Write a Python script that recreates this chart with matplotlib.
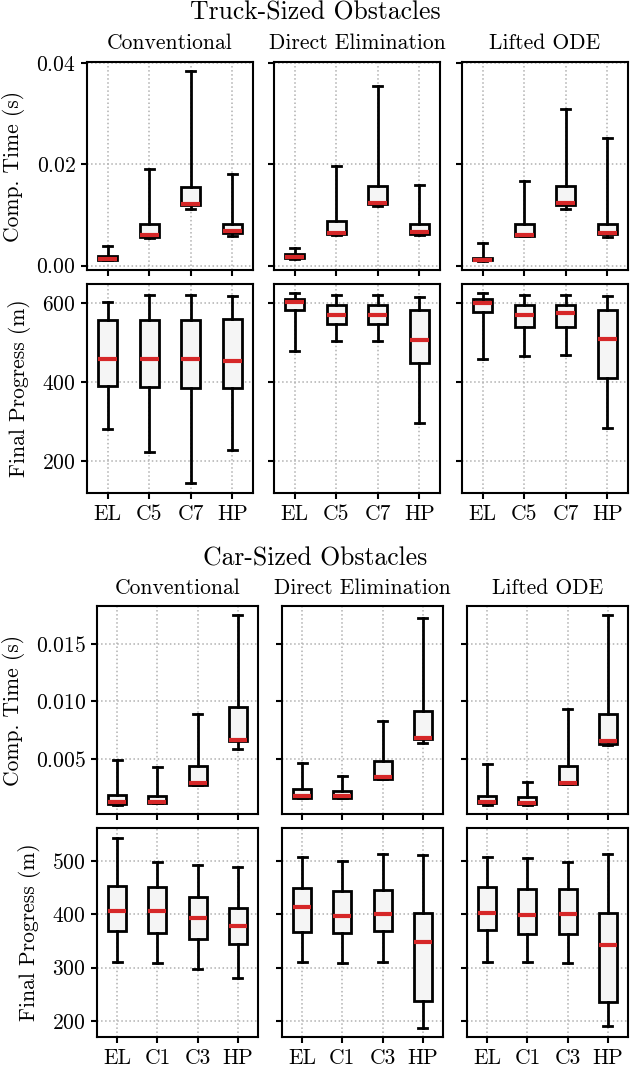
import matplotlib
matplotlib.use("Agg")
import matplotlib.pyplot as plt

plt.rcParams["font.family"] = "serif"
plt.rcParams["font.serif"] = ["cmr10"]
plt.rcParams["mathtext.fontset"] = "cm"
plt.rcParams["axes.formatter.use_mathtext"] = True
plt.rcParams["font.size"] = 15.5
plt.rcParams["axes.linewidth"] = 1.5

methods = ["Conventional", "Direct Elimination", "Lifted ODE"]
truck_labels = ["EL", "C5", "C7", "HP"]
car_labels = ["EL", "C1", "C3", "HP"]

# each entry: [whislo, q1, med, q3, whishi]
truck_time_conv = [[0.0011, 0.0012, 0.0013, 0.0018, 0.0039],
                   [0.0054, 0.0057, 0.0061, 0.0083, 0.0191],
                   [0.0111, 0.0119, 0.0122, 0.0155, 0.0383],
                   [0.0059, 0.0064, 0.0068, 0.0082, 0.0180]]
truck_time_de = [[0.0014, 0.0015, 0.0017, 0.0022, 0.0034],
                 [0.0060, 0.0063, 0.0065, 0.0088, 0.0196],
                 [0.0118, 0.0121, 0.0124, 0.0158, 0.0354],
                 [0.0061, 0.0063, 0.0066, 0.0083, 0.0160]]
truck_time_lode = [[0.0010, 0.0011, 0.0012, 0.0016, 0.0045],
                   [0.0058, 0.0059, 0.0061, 0.0083, 0.0166],
                   [0.0111, 0.0119, 0.0123, 0.0157, 0.0308],
                   [0.0056, 0.0062, 0.0065, 0.0082, 0.0252]]

truck_prog_conv = [[282, 390, 457, 558, 602],
                   [222, 387, 457, 557, 619],
                   [143, 386, 457, 557, 619],
                   [228, 384, 453, 559, 617]]
truck_prog_de = [[478, 581, 603, 609, 624],
                 [505, 548, 570, 596, 619],
                 [505, 548, 570, 596, 619],
                 [295, 448, 506, 582, 615]]
truck_prog_lode = [[459, 576, 601, 609, 624],
                   [465, 539, 569, 596, 619],
                   [469, 539, 574, 596, 619],
                   [284, 411, 510, 582, 617]]

car_time_conv = [[0.0010, 0.00105, 0.00125, 0.00183, 0.00486],
                 [0.0011, 0.00111, 0.0012, 0.00171, 0.00425],
                 [0.0027, 0.00272, 0.0029, 0.00434, 0.00892],
                 [0.0058, 0.00653, 0.0066, 0.00947, 0.01745]]
car_time_de = [[0.0016, 0.00157, 0.0017, 0.00232, 0.00463],
               [0.00155, 0.00157, 0.00174, 0.00215, 0.00344],
               [0.0032, 0.00321, 0.0034, 0.00477, 0.00826],
               [0.00633, 0.00673, 0.0068, 0.00912, 0.01725]]
car_time_lode = [[0.0010, 0.00111, 0.0012, 0.00171, 0.00457],
                 [0.0010, 0.00105, 0.00117, 0.00169, 0.00295],
                 [0.0028, 0.00278, 0.0029, 0.00437, 0.00935],
                 [0.00615, 0.00624, 0.0065, 0.00889, 0.01745]]

car_prog_conv = [[310, 368, 406, 453, 543],
                 [308, 364, 405, 451, 497],
                 [298, 353, 393, 432, 491],
                 [280, 344, 377, 412, 487]]
car_prog_de = [[310, 366, 413, 448, 506],
               [308, 365, 396, 443, 499],
               [310, 369, 401, 445, 512],
               [188, 237, 347, 402, 511]]
car_prog_lode = [[310, 371, 402, 451, 506],
                 [311, 362, 399, 446, 505],
                 [309, 362, 401, 446, 498],
                 [190, 236, 342, 402, 512]]

W, H = 630, 1070
fig = plt.figure(figsize=(W / 100, H / 100), dpi=100)


def px_axes(left, top, width, bottom):
    return fig.add_axes([left / W, 1 - bottom / H, width / W, (bottom - top) / H])


def draw(ax, rows, labels):
    stats = []
    for lab, (lo, q1, med, q3, hi) in zip(labels, rows):
        stats.append(dict(label=lab, whislo=lo, q1=q1, med=med, q3=q3,
                          whishi=hi, fliers=[]))
    ax.bxp(stats, patch_artist=True, showfliers=False,
           boxprops=dict(facecolor="#f5f5f5", edgecolor="black", linewidth=2.0),
           whiskerprops=dict(color="black", linewidth=2.0),
           capprops=dict(color="black", linewidth=2.0),
           medianprops=dict(color="#d62728", linewidth=3.0))
    ax.grid(True, linestyle=":", color="#b0b0b0", linewidth=1.1)
    ax.set_axisbelow(True)
    ax.tick_params(length=4.5, width=1.5)


sections = [
    dict(title="Truck-Sized Obstacles", title_y=20, labels=truck_labels,
         lefts=[87, 274, 462], width=166, rows=[(62, 270), (284, 493)],
         time=[truck_time_conv, truck_time_de, truck_time_lode],
         prog=[truck_prog_conv, truck_prog_de, truck_prog_lode],
         time_ticks=[0.0, 0.02, 0.04], prog_ticks=[200, 400, 600]),
    dict(title="Car-Sized Obstacles", title_y=565, labels=car_labels,
         lefts=[97, 282, 467], width=161, rows=[(606, 814), (828, 1037)],
         time=[car_time_conv, car_time_de, car_time_lode],
         prog=[car_prog_conv, car_prog_de, car_prog_lode],
         time_ticks=[0.005, 0.010, 0.015], prog_ticks=[200, 300, 400, 500]),
]

for sec in sections:
    fig.text(0.5, 1 - sec["title_y"] / H, sec["title"], ha="center",
             va="baseline", fontsize=18.5)
    top_axes, bot_axes = [], []
    for j, name in enumerate(methods):
        (t1, b1), (t2, b2) = sec["rows"]
        ax1 = px_axes(sec["lefts"][j], t1, sec["width"], b1)
        ax2 = px_axes(sec["lefts"][j], t2, sec["width"], b2)
        if j > 0:
            ax1.sharey(top_axes[0])
            ax2.sharey(bot_axes[0])
        draw(ax1, sec["time"][j], sec["labels"])
        draw(ax2, sec["prog"][j], sec["labels"])
        ax1.set_title(name, pad=9, fontsize=15.5)
        ax1.set_xticklabels([])
        ax1.set_yticks(sec["time_ticks"])
        ax2.set_yticks(sec["prog_ticks"])
        if j == 0:
            ax1.set_ylabel("Comp. Time (s)", labelpad=8)
            ax2.set_ylabel("Final Progress (m)", labelpad=8)
        else:
            ax1.tick_params(labelleft=False)
            ax2.tick_params(labelleft=False)
        top_axes.append(ax1)
        bot_axes.append(ax2)

fig.savefig("out.png", dpi=100)
